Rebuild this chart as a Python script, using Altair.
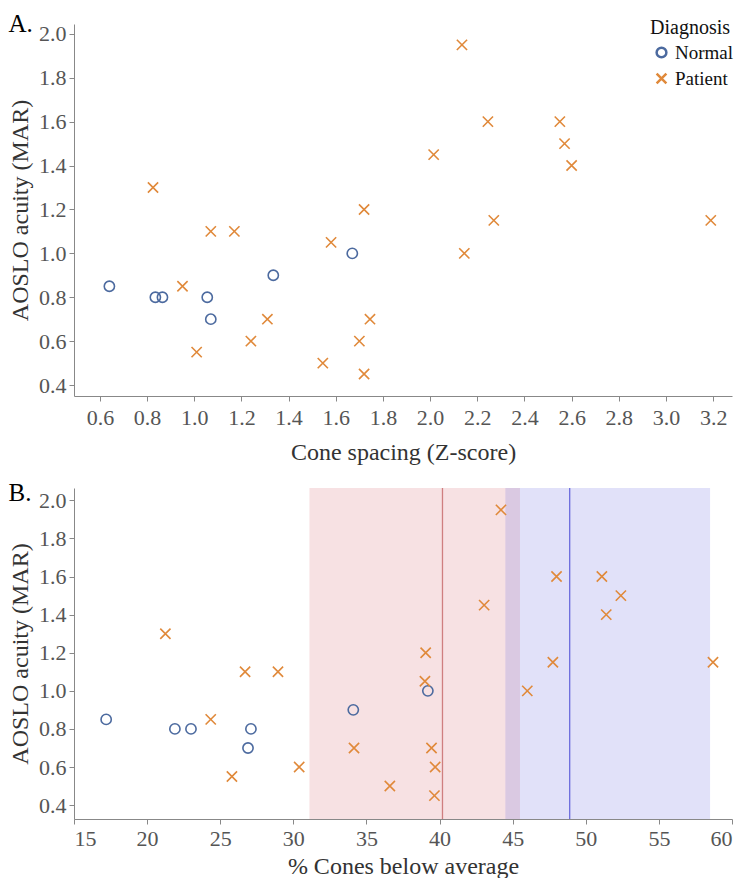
import altair as alt
import pandas as pd

FONT = "Liberation Serif, Times New Roman, DejaVu Serif, serif"

diagnoses = ["Normal", "Patient"]
diag_colors = ["#4C6A9F", "#E0893A"]
x_shape = "M-1,-1L1,1M-1,1L1,-1"

# Panel A: cone spacing (Z-score) vs AOSLO acuity
a_norm_x = [0.64, 0.835, 0.865, 1.055, 1.07, 1.335, 1.67]
a_norm_y = [0.85, 0.80, 0.80, 0.80, 0.70, 0.90, 1.00]
a_pat_x = [0.825, 0.95, 1.01, 1.07, 1.17, 1.24, 1.31, 1.545, 1.58, 1.70, 1.72,
           1.72, 1.745, 2.135, 2.245, 2.015, 2.55, 2.57, 2.60, 2.27, 2.145, 3.19]
a_pat_y = [1.30, 0.85, 0.55, 1.10, 1.10, 0.60, 0.70, 0.50, 1.05, 0.60, 1.20,
           0.45, 0.70, 1.95, 1.60, 1.45, 1.60, 1.50, 1.40, 1.15, 1.00, 1.15]

# Panel B: % cones below average vs AOSLO acuity
b_norm_x = [17.2, 21.9, 23.0, 27.1, 26.9, 34.1, 39.2]
b_norm_y = [0.85, 0.80, 0.80, 0.80, 0.70, 0.90, 1.00]
b_pat_x = [21.25, 26.7, 28.95, 24.35, 25.8, 30.4, 34.15, 36.6, 39.05, 39.0, 39.45,
           39.7, 39.65, 44.2, 43.05, 48.0, 51.1, 52.4, 51.4, 47.75, 46.0, 58.7]
b_pat_y = [1.30, 1.10, 1.10, 0.85, 0.55, 0.60, 0.70, 0.50, 1.20, 1.05, 0.70,
           0.60, 0.45, 1.95, 1.45, 1.60, 1.60, 1.50, 1.40, 1.15, 1.00, 1.15]

band_start = [31.1, 44.5]
band_end = [45.5, 58.5]
band_colors = ["#D76973", "#6969E1"]
line_x = [40.2, 48.9]
line_colors = ["#CF7F80", "#6B6BDD"]

a_xticks = [0.6, 0.8, 1.0, 1.2, 1.4, 1.6, 1.8, 2.0, 2.2, 2.4, 2.6, 2.8, 3.0, 3.2]
b_xticks = [15, 20, 25, 30, 35, 40, 45, 50, 55, 60]
yticks = [0.4, 0.6, 0.8, 1.0, 1.2, 1.4, 1.6, 1.8, 2.0]


def make_df(nx, ny, px, py):
    return pd.DataFrame({
        "x": nx + px,
        "y": ny + py,
        "Diagnosis": ["Normal"] * len(nx) + ["Patient"] * len(px),
    })


dfA = make_df(a_norm_x, a_norm_y, a_pat_x, a_pat_y)
dfB = make_df(b_norm_x, b_norm_y, b_pat_x, b_pat_y)
bands = pd.DataFrame({"start": band_start, "end": band_end, "c": band_colors})
lines = pd.DataFrame({"x": line_x, "c": line_colors})

W = 658
HA = 372
HB = 331

axis_style = dict(labelFont=FONT, titleFont=FONT, labelFontSize=22, titleFontSize=24,
                  labelColor="#555", titleColor="#333", titleFontWeight="normal",
                  domainColor="#888", tickColor="#888", tickSize=5, grid=False)


def points(df, xdom, xvals, xfmt, xtitle, ydom, legend, flush, xlpad, xpad):
    return alt.Chart(df).mark_point(filled=False, size=105, strokeWidth=1.6, opacity=1).encode(
        x=alt.X("x:Q", title=xtitle,
                scale=alt.Scale(domain=xdom, nice=False, zero=False),
                axis=alt.Axis(values=xvals, format=xfmt, titlePadding=xpad,
                              labelPadding=xlpad, labelFlush=flush, **axis_style)),
        y=alt.Y("y:Q", title="AOSLO acuity (MAR)",
                scale=alt.Scale(domain=ydom, nice=False, zero=False),
                axis=alt.Axis(values=yticks, format=".1f", titlePadding=6,
                              labelPadding=3, **axis_style)),
        color=alt.Color("Diagnosis:N",
                        scale=alt.Scale(domain=diagnoses, range=diag_colors),
                        legend=legend),
        shape=alt.Shape("Diagnosis:N",
                        scale=alt.Scale(domain=diagnoses, range=["circle", x_shape]),
                        legend=legend),
    )


legA = alt.Legend(orient="none", legendX=576, legendY=-6, title="Diagnosis",
                  titleFont=FONT, labelFont=FONT,
                  titleFontSize=20, labelFontSize=19, titleFontWeight="normal",
                  titleColor="#111", labelColor="#111", symbolSize=95,
                  symbolStrokeWidth=2.5, rowPadding=5, titlePadding=5, padding=0,
                  symbolOffset=2, labelOffset=4)

title_style = dict(anchor="start", frame="bounds", fontSize=25, font=FONT,
                   fontWeight="normal", color="#000", offset=-19)

panelA = points(dfA, [0.49, 3.28], a_xticks, ".1f", "Cone spacing (Z-score)",
                [0.35, 2.045], legA, False, 6, 12).properties(
    width=W, height=HA, title=alt.TitleParams("A.", **title_style))

rects = alt.Chart(bands).mark_rect(opacity=0.2).encode(
    x=alt.X("start:Q"), x2="end:Q",
    y=alt.value(0), y2=alt.value(HB),
    color=alt.Color("c:N", scale=None),
)
rules = alt.Chart(lines).mark_rule(strokeWidth=1.3).encode(
    x=alt.X("x:Q"), y=alt.value(0), y2=alt.value(HB),
    color=alt.Color("c:N", scale=None),
)
ptsB = points(dfB, [15, 60], b_xticks, "d", "% Cones below average",
              [0.327, 2.065], None, True, 4, 5)

panelB = alt.layer(rects, rules, ptsB).properties(
    width=W, height=HB, title=alt.TitleParams("B.", **title_style))

chart = alt.vconcat(panelA, panelB, spacing=17).resolve_scale(
    color="independent", shape="independent").properties(
    padding={"left": 0, "top": 4, "right": 0, "bottom": 0}
).configure(font=FONT).configure_view(stroke=None)

chart.save("out.html", embed_options={"renderer": "svg", "actions": False})
